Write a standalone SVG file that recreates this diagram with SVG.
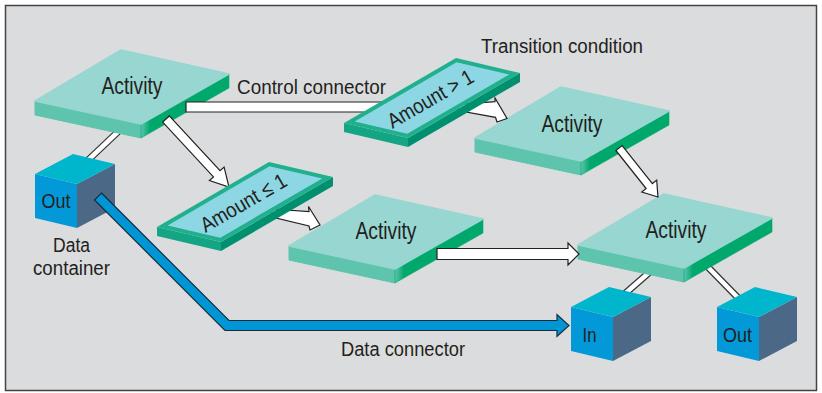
<svg xmlns="http://www.w3.org/2000/svg" xmlns:xlink="http://www.w3.org/1999/xlink" width="822" height="393" viewBox="0 0 822 393">
  <style>
    .lbl { font-family: "Liberation Sans", Arial, sans-serif; font-size: 20px; fill: #231f20; }
    .act { font-family: "Liberation Sans", Arial, sans-serif; font-size: 23px; fill: #231f20; text-anchor: middle; }
    .cond { font-family: "Liberation Sans", Arial, sans-serif; font-size: 21px; fill: #231f20; text-anchor: middle; }
    .box { font-family: "Liberation Sans", Arial, sans-serif; font-size: 21px; fill: #231f20; text-anchor: middle; }
    .ctl { fill: #ffffff; stroke: #222222; stroke-width: 1.2; stroke-linejoin: miter; }
    .bar-o { stroke: #333333; stroke-width: 7; fill: none; }
    .bar-i { stroke: #ffffff; stroke-width: 4.6; fill: none; }
  </style>
  <defs>
    <linearGradient id="edge" gradientUnits="userSpaceOnUse" x1="106" y1="0" x2="115" y2="0">
      <stop offset="0" stop-color="#5ec4ad"/>
      <stop offset="1" stop-color="#00a86c"/>
    </linearGradient>
    <!-- activity slab, origin at the left corner of the top face -->
    <g id="slab" stroke-linejoin="round">
      <path d="M0,0 L106,23 L106,37 L0,14 Z" fill="#5ec4ad" stroke="#5ec4ad" stroke-width="1"/>
      <path d="M106,23 L194,-27 L194,-13 L106,37 Z" fill="url(#edge)" stroke="#00a86c" stroke-width="0.6"/>
      <path d="M0,0 L86,-51 L194,-27 L106,23 Z" fill="#97d6d1" stroke="#97d6d1" stroke-width="1.5"/>
    </g>
    <!-- transition condition plate -->
    <g id="plate">
      <path d="M0,0 L64,15 L64,24 L0,9 Z" fill="#13a584"/>
      <path d="M64,15 L176,-50 L176,-41 L64,24 Z" fill="#00906f"/>
      <path d="M0,0 L112,-65 L176,-50 L64,15 Z" fill="#21b08d"/>
      <path d="M10.7,-1.6 L112.6,-60.8 L165.2,-48.5 L63.3,10.7 Z" fill="#8dd6e3"/>
    </g>
    <!-- data container cube -->
    <g id="cube">
      <path d="M0,0 L42,10 L42,54 L0,44 Z" fill="#0398d8"/>
      <path d="M42,10 L80,-10 L80,34 L42,54 Z" fill="#4b6986"/>
      <path d="M0,0 L38,-20 L80,-10 L42,10 Z" fill="#00b6cd"/>
    </g>
  </defs>

  <!-- frame -->
  <rect x="5.5" y="5.5" width="811" height="385" fill="#dbdcdd" stroke="#444444" stroke-width="1.5"/>

  <!-- links between activities and their data containers -->
  <g id="links">
    <path class="bar-o" d="M122,128 L84,164"/>
    <path class="bar-i" d="M122,128 L84,164"/>
    <path class="bar-o" d="M652,270 L620,298"/>
    <path class="bar-i" d="M652,270 L620,298"/>
    <path class="bar-o" d="M703,262 L745,305"/>
    <path class="bar-i" d="M703,262 L745,305"/>
  </g>

  <!-- activities -->
  <g id="activity-1" transform="translate(35,101)">
    <use xlink:href="#slab"/>
    <text class="act" x="97" y="-7" textLength="61" lengthAdjust="spacingAndGlyphs">Activity</text>
  </g>
  <g id="activity-2" transform="translate(475,138)">
    <use xlink:href="#slab"/>
    <text class="act" x="97" y="-6" textLength="61" lengthAdjust="spacingAndGlyphs">Activity</text>
  </g>
  <g id="activity-3" transform="translate(289,246)">
    <use xlink:href="#slab"/>
    <text class="act" x="97" y="-7" textLength="61" lengthAdjust="spacingAndGlyphs">Activity</text>
  </g>
  <g id="activity-4" transform="translate(578,245)">
    <use xlink:href="#slab"/>
    <text class="act" x="98" y="-7" textLength="61" lengthAdjust="spacingAndGlyphs">Activity</text>
  </g>

  <!-- data containers -->
  <g id="container-out-1" transform="translate(35,174)">
    <use xlink:href="#cube"/>
    <text class="box" x="21" y="34" textLength="29" lengthAdjust="spacingAndGlyphs">Out</text>
  </g>
  <g id="container-in" transform="translate(571,307)">
    <use xlink:href="#cube"/>
    <text class="box" x="18.5" y="35" textLength="14" lengthAdjust="spacingAndGlyphs">In</text>
  </g>
  <g id="container-out-2" transform="translate(717,307)">
    <use xlink:href="#cube"/>
    <text class="box" x="20.5" y="35" textLength="29" lengthAdjust="spacingAndGlyphs">Out</text>
  </g>

  <!-- control and data connectors -->
  <g id="connectors">
    <path class="ctl" d="M186,102 L388,102 L388,112 L186,112 Z"/>
    <path class="ctl" d="M458,104.5 L495,101.7 L495,98 L507,118.5 L497,122 L495.5,117.3 L458,110.5 Z"/>
    <path class="ctl" transform="translate(166,119) rotate(47.2)" d="M0,-4.5 L74.7,-4.5 L74.7,-10 L92.7,0 L74.7,10 L74.7,4.5 L0,4.5 Z"/>
    <path class="ctl" d="M272,209 L309,211.5 L308.5,206.5 L320,225 L310,230 L309,226 L272,217 Z"/>
    <path class="ctl" transform="translate(619,148) rotate(51.5)" d="M0,-4 L48.6,-4 L48.6,-9.5 L62.6,0 L48.6,9.5 L48.6,4 L0,4 Z"/>
    <path class="ctl" d="M437,248.5 L568,248.5 L568,243 L579,254 L568,265 L568,259.5 L437,259.5 Z"/>
    <path d="M101.5,193 L229,320.5 L557,320.5 L557,314.5 L569,325.5 L557,336.5 L557,330.5 L225,330.5 L94.5,200 Z" fill="#0096d6" stroke="#1a2a3a" stroke-width="1.2"/>
  </g>

  <!-- transition conditions -->
  <g id="condition-gt" transform="translate(344,123)">
    <use xlink:href="#plate"/>
    <text class="cond" transform="translate(90,-18) rotate(-30.1)" x="0" y="0" textLength="96" lengthAdjust="spacingAndGlyphs">Amount &gt; 1</text>
  </g>
  <g id="condition-le" transform="translate(157,227)">
    <use xlink:href="#plate"/>
    <text class="cond" transform="translate(90,-18) rotate(-30.1)" x="0" y="0" textLength="96" lengthAdjust="spacingAndGlyphs">Amount ≤ 1</text>
  </g>

  <!-- captions -->
  <g id="labels">
    <text class="lbl" x="237" y="94" textLength="149" lengthAdjust="spacingAndGlyphs">Control connector</text>
    <text class="lbl" x="481" y="53" textLength="162" lengthAdjust="spacingAndGlyphs">Transition condition</text>
    <text class="lbl" x="53" y="252" textLength="37" lengthAdjust="spacingAndGlyphs">Data</text>
    <text class="lbl" x="33" y="275" textLength="77" lengthAdjust="spacingAndGlyphs">container</text>
    <text class="lbl" x="341" y="356" textLength="124" lengthAdjust="spacingAndGlyphs">Data connector</text>
  </g>
</svg>
